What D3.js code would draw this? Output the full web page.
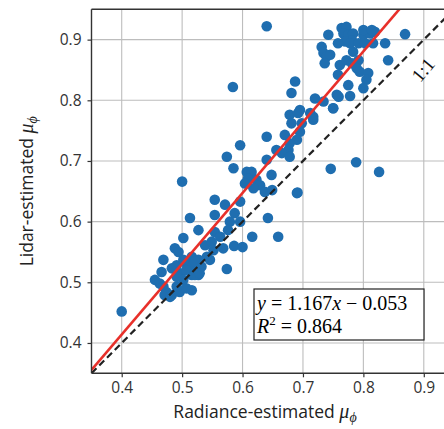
<!DOCTYPE html>
<html lang="en">
<head>
  <meta charset="UTF-8" />
  <title>Lidar vs Radiance estimated mu_phi</title>
  <style>
    body { margin: 0; padding: 0; background: #fff; }
    svg { display: block; }
    .tick text { font-family: "Open Sans", sans-serif; font-size: 15.5px; fill: #333; }
    .axlabel { font-family: "Open Sans", sans-serif; font-size: 17.5px; fill: #222; }
    .math { font-family: "Liberation Serif", "DejaVu Serif", serif; }
  </style>
  <script src="https://d3js.org/d3.v7.min.js"></script>
</head>
<body>
<svg id="chart" width="444" height="429"></svg>
<script>
// radiance-estimated (x) and lidar-estimated (y) values
const radiance = [
  0.742, 0.764, 0.772, 0.767, 0.775, 0.783, 0.781, 0.770, 0.758, 0.778,
  0.792, 0.800, 0.811, 0.819, 0.803, 0.816, 0.836, 0.841, 0.731, 0.734,
  0.739, 0.745, 0.736, 0.761, 0.772, 0.783, 0.781, 0.792, 0.789, 0.794,
  0.808, 0.805, 0.800, 0.775, 0.758, 0.756, 0.778, 0.720, 0.734, 0.687,
  0.681, 0.750, 0.695, 0.869, 0.800, 0.814, 0.678, 0.692, 0.681, 0.698,
  0.712, 0.717, 0.695, 0.670, 0.690, 0.678, 0.676, 0.665, 0.678, 0.656,
  0.640, 0.596, 0.574, 0.640, 0.585, 0.607, 0.615, 0.609, 0.623, 0.604,
  0.629, 0.618, 0.648, 0.637, 0.691, 0.746, 0.788, 0.826, 0.750, 0.717,
  0.690, 0.584, 0.500, 0.640, 0.554, 0.571, 0.596, 0.554, 0.587, 0.579,
  0.596, 0.513, 0.527, 0.554, 0.563, 0.576, 0.616, 0.659, 0.502, 0.488,
  0.494, 0.538, 0.549, 0.552, 0.568, 0.586, 0.600, 0.541, 0.527, 0.516,
  0.546, 0.574, 0.469, 0.466, 0.507, 0.518, 0.532, 0.488, 0.496, 0.516,
  0.527, 0.400, 0.455, 0.463, 0.469, 0.474, 0.483, 0.471, 0.491, 0.496,
  0.507, 0.516, 0.483, 0.491, 0.502, 0.507, 0.521, 0.529, 0.521, 0.491,
  0.502, 0.480, 0.649, 0.759, 0.642
];
const lidar = [
  0.908, 0.919, 0.921, 0.910, 0.908, 0.910, 0.899, 0.897, 0.894, 0.894,
  0.894, 0.908, 0.910, 0.913, 0.894, 0.894, 0.894, 0.866, 0.888, 0.878,
  0.872, 0.875, 0.861, 0.858, 0.866, 0.880, 0.861, 0.866, 0.853, 0.847,
  0.845, 0.834, 0.820, 0.825, 0.842, 0.809, 0.807, 0.803, 0.798, 0.831,
  0.812, 0.787, 0.784, 0.909, 0.916, 0.916, 0.776, 0.779, 0.762, 0.762,
  0.779, 0.768, 0.748, 0.743, 0.735, 0.729, 0.718, 0.713, 0.707, 0.718,
  0.740, 0.726, 0.707, 0.702, 0.688, 0.682, 0.682, 0.671, 0.669, 0.663,
  0.660, 0.655, 0.677, 0.649, 0.648, 0.687, 0.698, 0.682, 0.787, 0.773,
  0.647, 0.822, 0.666, 0.922, 0.636, 0.628, 0.633, 0.611, 0.614, 0.600,
  0.600, 0.606, 0.586, 0.583, 0.575, 0.586, 0.575, 0.575, 0.573, 0.556,
  0.550, 0.561, 0.567, 0.553, 0.556, 0.560, 0.558, 0.542, 0.537, 0.542,
  0.537, 0.522, 0.537, 0.517, 0.531, 0.528, 0.526, 0.523, 0.515, 0.512,
  0.512, 0.452, 0.504, 0.498, 0.493, 0.484, 0.479, 0.479, 0.493, 0.484,
  0.490, 0.487, 0.523, 0.528, 0.537, 0.520, 0.512, 0.515, 0.534, 0.509,
  0.504, 0.476, 0.652, 0.806, 0.606
];
const ticks = [0.4, 0.5, 0.6, 0.7, 0.8, 0.9];
const fitSlope = 1.167, fitIntercept = -0.053, fitR2 = 0.864;

const svg = d3.select("#chart");
const x = d3.scaleLinear().domain([0.35, 0.95]).range([91.5, 454]);
const y = d3.scaleLinear().domain([0.35, 0.95]).range([373.3, 9.3]);

svg.append("defs").append("clipPath").attr("id", "plotclip")
  .append("rect").attr("x", x(0.35)).attr("y", y(0.95))
  .attr("width", x(0.95) - x(0.35)).attr("height", y(0.35) - y(0.95));

// grid
const grid = svg.append("g").attr("stroke", "#bdbdbd").attr("stroke-width", 1.1);
ticks.forEach(t => {
  grid.append("line").attr("x1", x(t)).attr("x2", x(t)).attr("y1", y(0.35)).attr("y2", y(0.95));
  grid.append("line").attr("x1", x(0.35)).attr("x2", x(0.95)).attr("y1", y(t)).attr("y2", y(t));
});

const plot = svg.append("g").attr("clip-path", "url(#plotclip)");

// points
plot.selectAll("circle").data(d3.range(radiance.length)).join("circle")
  .attr("cx", i => x(radiance[i])).attr("cy", i => y(lidar[i]))
  .attr("r", 5.3).attr("fill", "#1f6eb0");

// 1:1 line
plot.append("line")
  .attr("x1", x(0.35)).attr("y1", y(0.35)).attr("x2", x(0.95)).attr("y2", y(0.95))
  .attr("stroke", "#222").attr("stroke-width", 2.2).attr("stroke-dasharray", "7,4");

// fit line
plot.append("line")
  .attr("x1", x(0.35)).attr("y1", y(fitSlope * 0.35 + fitIntercept))
  .attr("x2", x(0.9)).attr("y2", y(fitSlope * 0.9 + fitIntercept))
  .attr("stroke", "#e8302a").attr("stroke-width", 2.6);

// axes
const xAxis = svg.append("g").attr("transform", `translate(0,${y(0.35)})`)
  .call(d3.axisBottom(x).tickValues(ticks).tickFormat(d3.format(".1f")).tickSize(4).tickPadding(5));
const yAxis = svg.append("g").attr("transform", `translate(${x(0.35)},0)`)
  .call(d3.axisLeft(y).tickValues(ticks).tickFormat(d3.format(".1f")).tickSize(4).tickPadding(6));
[xAxis, yAxis].forEach(a => {
  a.select(".domain").remove();
  a.selectAll(".tick line").attr("stroke", "#333").attr("stroke-width", 1.2);
});

// spines (right one is outside the picture)
svg.append("line").attr("x1", x(0.35)).attr("x2", x(0.35)).attr("y1", y(0.35)).attr("y2", y(0.95))
  .attr("stroke", "#333").attr("stroke-width", 1.4);
svg.append("line").attr("x1", x(0.35)).attr("x2", 444).attr("y1", y(0.35)).attr("y2", y(0.35))
  .attr("stroke", "#333").attr("stroke-width", 1.4);
svg.append("line").attr("x1", x(0.35)).attr("x2", 444).attr("y1", y(0.95)).attr("y2", y(0.95))
  .attr("stroke", "#333").attr("stroke-width", 1.4);

// axis labels
const xl = svg.append("text").attr("class", "axlabel").attr("x", 265).attr("y", 418).attr("text-anchor", "middle");
xl.append("tspan").text("Radiance-estimated ");
xl.append("tspan").attr("class", "math").attr("font-style", "italic").attr("font-size", 20).text("μ");
xl.append("tspan").attr("class", "math").attr("font-style", "italic").attr("font-size", 14).attr("dy", 4).text("ϕ");

const yl = svg.append("text").attr("class", "axlabel").attr("text-anchor", "middle")
  .attr("transform", `translate(33,${(y(0.35) + y(0.95)) / 2}) rotate(-90)`);
yl.append("tspan").text("Lidar-estimated ");
yl.append("tspan").attr("class", "math").attr("font-style", "italic").attr("font-size", 20).text("μ");
yl.append("tspan").attr("class", "math").attr("font-style", "italic").attr("font-size", 14).attr("dy", 4).text("ϕ");

// 1:1 annotation
svg.append("text").attr("class", "math").attr("font-size", 19).attr("fill", "#111")
  .attr("text-anchor", "middle")
  .attr("transform", `translate(428,74) rotate(-50)`).text("1:1");

// fit box
const bx = 254, by = 289;
svg.append("rect").attr("x", bx).attr("y", by).attr("width", 170).attr("height", 51)
  .attr("fill", "#fff").attr("stroke", "#222").attr("stroke-width", 1.2);
const t1 = svg.append("text").attr("class", "math").attr("font-size", 20).attr("x", bx + 3).attr("y", by + 21);
t1.append("tspan").attr("font-style", "italic").text("y");
t1.append("tspan").text(` = ${fitSlope}`);
t1.append("tspan").attr("font-style", "italic").text("x");
t1.append("tspan").text(` − ${Math.abs(fitIntercept).toFixed(3)}`);
const t2 = svg.append("text").attr("class", "math").attr("font-size", 20).attr("x", bx + 3).attr("y", by + 44);
t2.append("tspan").attr("font-style", "italic").text("R");
t2.append("tspan").attr("font-size", 13).attr("dy", -8).text("2");
t2.append("tspan").attr("dy", 8).text(` = ${fitR2}`);
</script>
</body>
</html>
